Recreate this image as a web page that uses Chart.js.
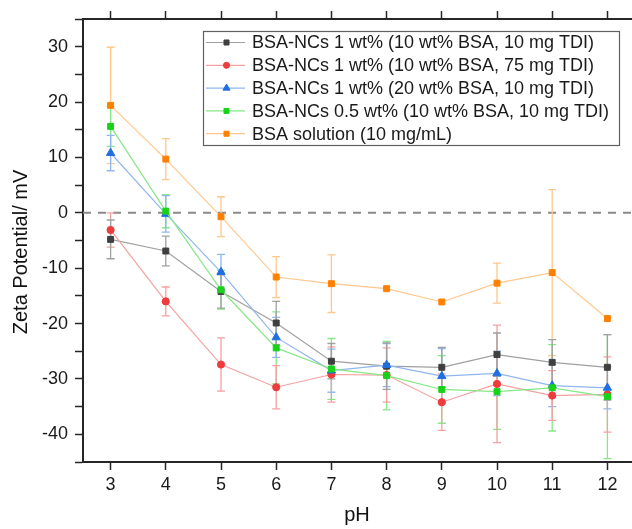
<!DOCTYPE html>
<html>
<head>
<meta charset="utf-8">
<script src="https://cdn.jsdelivr.net/npm/chart.js@4.4.1/dist/chart.umd.min.js"></script>
<style>
  html, body { margin: 0; padding: 0; background: #fff; overflow: hidden; }
  #wrap { width: 645px; height: 529px; }
</style>
</head>
<body>
<div id="wrap"><canvas id="canvas"></canvas></div>
<script>
const PH = [3, 4, 5, 6, 7, 8, 9, 10, 11, 12];

// zeta potential (mV) and standard deviation per pH
const NC_10BSA_10TDI = [-4.8, -6.9, -14.2, -19.9, -26.8, -27.7, -27.9, -25.6, -27.0, -27.9];
const NC_10BSA_10TDI_ERR = [3.5, 2.7, 3.0, 3.9, 3.2, 4.2, 3.6, 3.9, 4.1, 5.9];

const NC_10BSA_75TDI = [-3.1, -16.0, -27.4, -31.5, -29.2, -29.3, -34.2, -30.9, -33.0, -32.8];
const NC_10BSA_75TDI_ERR = [3.1, 2.6, 4.8, 3.9, 5.0, 4.9, 5.1, 10.6, 4.5, 6.8];

const NC_20BSA_10TDI = [10.8, -0.2, -10.7, -22.5, -28.5, -27.5, -29.5, -29.0, -31.2, -31.6];
const NC_20BSA_10TDI_ERR = [3.2, 3.3, 3.2, 3.6, 3.9, 3.9, 5.0, 4.0, 3.8, 3.8];

const NC_HALF_10BSA_10TDI = [15.6, 0.3, -13.9, -24.4, -28.2, -29.4, -31.9, -32.3, -31.6, -33.2];
const NC_HALF_10BSA_10TDI_ERR = [3.6, 3.0, 3.5, 6.5, 5.5, 6.2, 6.1, 6.8, 7.8, 11.2];

const BSA_SOLUTION = [19.4, 9.7, -0.7, -11.6, -12.8, -13.7, -16.1, -12.7, -10.8, -19.1];
const BSA_SOLUTION_ERR = [10.5, 3.7, 3.6, 3.7, 5.2, 0, 0, 3.6, 15.0, 0];

const SERIES_LABELS = [
  "BSA-NCs 1 wt% (10 wt% BSA, 10 mg TDI)",
  "BSA-NCs 1 wt% (10 wt% BSA, 75 mg TDI)",
  "BSA-NCs 1 wt% (20 wt% BSA, 10 mg TDI)",
  "BSA-NCs 0.5 wt% (10 wt% BSA, 10 mg TDI)",
  "BSA solution (10 mg/mL)",
];

const FONT = '"Liberation Sans", Arial, sans-serif';
const AXIS_COLOR = "#262626";

const makeSeries = (label, values, errors, marker, line, pointStyle, radius) => ({
  label: label,
  data: PH.map((x, i) => ({ x: x, y: values[i] })),
  errors: errors,
  errColor: line,
  borderColor: line,
  borderWidth: 1.2,
  backgroundColor: marker,
  pointBackgroundColor: marker,
  pointBorderColor: marker,
  pointBorderWidth: 1,
  pointStyle: pointStyle,
  pointRadius: radius,
  tension: 0,
  fill: false,
});

const datasets = [
  makeSeries(SERIES_LABELS[4], BSA_SOLUTION, BSA_SOLUTION_ERR, "#ff8000", "#ffc78c", "rect", 4.2),
  makeSeries(SERIES_LABELS[3], NC_HALF_10BSA_10TDI, NC_HALF_10BSA_10TDI_ERR, "#17d317", "#86e886", "rect", 4.2),
  makeSeries(SERIES_LABELS[2], NC_20BSA_10TDI, NC_20BSA_10TDI_ERR, "#1f6fe0", "#8fb6ee", "triangle", 4.8),
  makeSeries(SERIES_LABELS[1], NC_10BSA_75TDI, NC_10BSA_75TDI_ERR, "#ee3b3b", "#f5a0a0", "circle", 3.6),
  makeSeries(SERIES_LABELS[0], NC_10BSA_10TDI, NC_10BSA_10TDI_ERR, "#3f3f3f", "#a0a0a0", "rect", 4.2),
];

// dashed zero line + error bars, under the lines and markers
const errorBars = {
  id: "errorBars",
  beforeDatasetsDraw(chart) {
    const { ctx, chartArea, scales } = chart;
    const x = scales.x, y = scales.y;
    ctx.save();
    const y0 = y.getPixelForValue(0);
    ctx.strokeStyle = "#8a8a8a";
    ctx.lineWidth = 2;
    ctx.setLineDash([8, 7]);
    ctx.beginPath();
    ctx.moveTo(chartArea.left, y0);
    ctx.lineTo(chartArea.right, y0);
    ctx.stroke();
    ctx.setLineDash([]);

    ctx.lineWidth = 1.3;
    chart.data.datasets.forEach((ds) => {
      ctx.strokeStyle = ds.errColor;
      ds.data.forEach((p, j) => {
        const e = ds.errors[j];
        if (!e) return;
        const px = x.getPixelForValue(p.x);
        const top = y.getPixelForValue(p.y + e);
        const bot = y.getPixelForValue(p.y - e);
        ctx.beginPath();
        ctx.moveTo(px, top);
        ctx.lineTo(px, bot);
        ctx.moveTo(px - 4, top);
        ctx.lineTo(px + 4, top);
        ctx.moveTo(px - 4, bot);
        ctx.lineTo(px + 4, bot);
        ctx.stroke();
      });
    });
    ctx.restore();
  },
};

// axis titles and the boxed legend inside the plot
const decorations = {
  id: "decorations",
  afterDraw(chart) {
    const { ctx, chartArea } = chart;
    ctx.save();
    ctx.fillStyle = "#111";
    ctx.font = "20px " + FONT;
    ctx.textAlign = "center";
    ctx.textBaseline = "middle";
    ctx.fillText("pH", (chartArea.left + chartArea.right) / 2 - 2, 515);
    ctx.translate(21, 252);
    ctx.rotate(-Math.PI / 2);
    ctx.fillText("Zeta Potential/ mV", 0, 0);
    ctx.restore();

    const left = chartArea.left + 120;
    const top = chartArea.top + 12;
    ctx.save();
    ctx.fillStyle = "#fff";
    ctx.fillRect(left, top, 416, 114);
    ctx.strokeStyle = "#606060";
    ctx.lineWidth = 1.2;
    ctx.strokeRect(left + 0.5, top + 0.5, 416, 114);
    ctx.font = "18px " + FONT;
    ctx.textBaseline = "middle";
    ctx.textAlign = "left";
    SERIES_LABELS.forEach((label, i) => {
      const ds = chart.data.datasets.find((d) => d.label === label);
      const cy = top + 11.5 + i * 22.8;
      ctx.strokeStyle = ds.borderColor;
      ctx.lineWidth = 1.2;
      ctx.beginPath();
      ctx.moveTo(left + 3, cy);
      ctx.lineTo(left + 42, cy);
      ctx.stroke();
      ctx.fillStyle = ds.pointBackgroundColor;
      ctx.strokeStyle = ds.pointBorderColor;
      ctx.lineWidth = 1;
      Chart.helpers.drawPoint(ctx, {
        pointStyle: ds.pointStyle,
        radius: ds.pointRadius * 0.85,
        rotation: 0,
        borderWidth: 1,
      }, left + 23.5, cy);
      ctx.fillStyle = "#1a1a1a";
      ctx.fillText(label, left + 49, cy + 1);
    });
    ctx.restore();
  },
};

// one tick per measured pH
const phTicks = (scale) => {
  scale.ticks = PH.map((v) => ({ value: v }));
};

const axisGrid = {
  drawOnChartArea: false,
  drawTicks: true,
  tickLength: 8,
  tickWidth: 1.5,
  tickColor: AXIS_COLOR,
};
const axisBorder = { display: true, color: AXIS_COLOR, width: 2 };

new Chart(document.getElementById("canvas"), {
  type: "line",
  data: { datasets: datasets },
  options: {
    animation: false,
    responsive: true,
    maintainAspectRatio: false,
    devicePixelRatio: 1,
    layout: { padding: { left: 0, right: 10, top: 0, bottom: 0 } },
    plugins: { legend: { display: false }, tooltip: { enabled: false } },
    scales: {
      x: {
        type: "linear",
        position: "bottom",
        min: 2.5,
        max: 12.5,
        afterBuildTicks: phTicks,
        afterFit: (s) => { s.height = 67; },
        ticks: { color: "#1a1a1a", font: { family: FONT, size: 18 }, padding: 4 },
        grid: axisGrid,
        border: axisBorder,
      },
      x2: {
        type: "linear",
        position: "top",
        min: 2.5,
        max: 12.5,
        afterBuildTicks: phTicks,
        afterFit: (s) => { s.height = 19; },
        ticks: { display: false },
        grid: axisGrid,
        border: axisBorder,
      },
      y: {
        type: "linear",
        min: -45,
        max: 35,
        afterFit: (s) => { s.width = 83; },
        ticks: {
          stepSize: 5,
          color: "#1a1a1a",
          font: { family: FONT, size: 18 },
          padding: 7,
          callback: (v) => (v % 10 === 0 ? String(v) : ""),
        },
        grid: axisGrid,
        border: axisBorder,
      },
    },
  },
  plugins: [errorBars, decorations],
});
</script>
</body>
</html>
